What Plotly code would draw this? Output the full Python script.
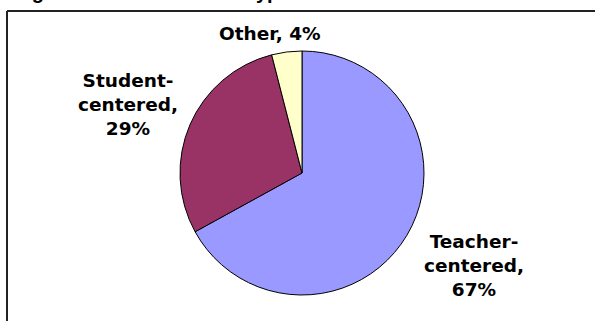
import plotly.graph_objects as go

# Share of observed class time by instructional approach
categories = ["Teacher-centered", "Student-centered", "Other"]
shares = [67, 29, 4]
slice_colors = ["#9999FF", "#993366", "#FFFFCC"]

title_text = "Figure 3: Class Session Types"

W, H = 595, 321


def px_x(x):
    return x / W


def px_y(y):
    return 1 - y / H


# Pie placement (pixels): centre and radius
cx, cy, r = 302, 173, 122

fig = go.Figure(
    go.Pie(
        labels=categories,
        values=shares,
        sort=False,
        direction="clockwise",
        rotation=0,
        marker=dict(colors=slice_colors, line=dict(color="#000000", width=1)),
        textinfo="none",
        hoverinfo="label+percent",
        showlegend=False,
        domain=dict(x=[px_x(cx - r), px_x(cx + r)], y=[px_y(cy + r), px_y(cy - r)]),
    )
)

# Outside labels: "Name, NN%" (hyphenated names wrap onto three lines)
label_pos = {
    "Teacher-centered": (474, 265),
    "Student-centered": (128, 104),
    "Other": (270, 33),
}
annotations = []
for cat, val in zip(categories, shares):
    if "-" in cat:
        txt = cat.replace("-", "-<br>") + ",<br>" + f"{val}%"
    else:
        txt = f"{cat}, {val}%"
    x, y = label_pos[cat]
    annotations.append(
        dict(
            x=px_x(x), y=px_y(y), xref="paper", yref="paper",
            text=txt, showarrow=False, align="center",
            xanchor="center", yanchor="middle",
            font=dict(family="DejaVu Sans", size=18.5, color="#000000", weight="bold"),
        )
    )

# Figure caption sitting above the framed chart area
annotations.append(
    dict(
        x=px_x(12), y=1, xref="paper", yref="paper",
        text=f"<b>{title_text}</b>", showarrow=False,
        xanchor="left", yanchor="bottom", yshift=-5,
        font=dict(family="Liberation Sans", size=20, color="#000000"),
    )
)

fig.update_layout(
    width=W, height=H,
    margin=dict(l=0, r=0, t=0, b=0),
    paper_bgcolor="#FFFFFF",
    plot_bgcolor="#FFFFFF",
    annotations=annotations,
    shapes=[
        dict(type="line", xref="paper", yref="paper",
             x0=px_x(7), x1=1.05, y0=px_y(11), y1=px_y(11),
             line=dict(color="#222222", width=2)),
        dict(type="line", xref="paper", yref="paper",
             x0=px_x(7), x1=px_x(7), y0=px_y(11), y1=-0.05,
             line=dict(color="#222222", width=2)),
    ],
)

fig.write_html("out.html")
